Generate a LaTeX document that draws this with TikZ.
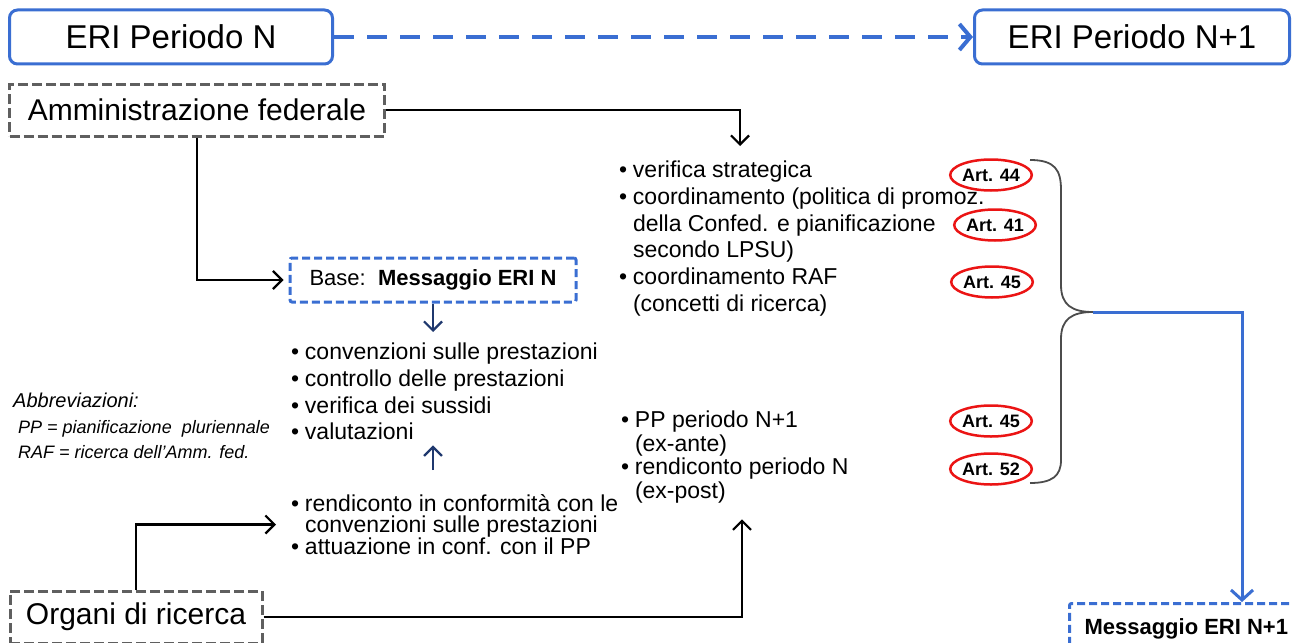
\documentclass[tikz,border=0pt]{standalone}
\usepackage{fontspec}
\setmainfont{Liberation Sans}
\usetikzlibrary{shapes.geometric, arrows.meta, positioning}

\definecolor{eriblue}{RGB}{58,110,210}
\definecolor{erinavy}{RGB}{31,56,110}
\definecolor{boxgray}{RGB}{95,95,95}
\definecolor{artred}{RGB}{235,20,20}

% punto elenco e rientro delle righe successive
\newcommand{\bul}{\makebox[0.6em][l]{•}}
\newcommand{\ind}{\hspace*{0.6em}}

\begin{document}
\begin{tikzpicture}[x=1pt, y=-1pt,
  periodbox/.style={draw=eriblue, line width=3pt, rounded corners=8pt,
    minimum height=54pt, inner sep=0pt, font=\fontsize{33}{38}\selectfont},
  actorbox/.style={draw=boxgray, line width=3pt, dash pattern=on 10pt off 4pt,
    minimum height=52pt, inner sep=0pt, font=\fontsize{30}{34}\selectfont},
  msgbox/.style={draw=eriblue, line width=3pt, dash pattern=on 8pt off 4pt,
    rounded corners=2pt, font=\fontsize{22}{26}\selectfont},
  itemlist/.style={anchor=north west, align=left, inner sep=0pt},
  art/.style={ellipse, draw=artred, line width=2.5pt, minimum width=78pt,
    minimum height=31pt, inner sep=0pt, font=\bfseries\fontsize{18}{20}\selectfont},
  flow/.style={line width=2.2pt, -{Straight Barb[length=9pt,width=18pt,line width=2.2pt]}},
  navyflow/.style={flow, draw=erinavy, -{Straight Barb[length=9pt,width=18pt,line width=2.2pt,color=erinavy]}},
  blueflow/.style={line width=3pt, draw=eriblue, -{Straight Barb[length=10pt,width=22pt,line width=3pt]}},
]
  \useasboundingbox (0,0) rectangle (1292,642);
  \clip (0,0) rectangle (1292,642);

  % ===== periodi ERI =====
  \node[periodbox, minimum width=323pt] (eriN) at (171,37) {ERI Periodo N};
  \node[periodbox, minimum width=315pt] (eriNext) at (1132,37) {ERI Periodo N+1};
  \draw[eriblue, line width=4.5pt, dash pattern=on 20pt off 13pt,
    -{Straight Barb[length=11pt,width=26pt,line width=4pt]}] (eriN) -- (eriNext);

  % ===== attori =====
  \node[actorbox, minimum width=375pt] (amm) at (197,110) {Amministrazione federale};
  \node[actorbox, minimum width=252pt] (organi) at (136,617) {Organi di ricerca};

  % ===== base e compiti =====
  \node[msgbox, minimum width=286pt, minimum height=44pt] (base) at (433,280)
    {Base:\ \ \textbf{Messaggio ERI N}};

  \node[itemlist, font=\fontsize{23}{26.7}\selectfont] (tasks) at (291,343)
    {\bul convenzioni sulle prestazioni\\
     \bul controllo delle prestazioni\\
     \bul verifica dei sussidi\\
     \bul valutazioni};

  \node[itemlist, font=\fontsize{23}{21}\selectfont] (report) at (291,494)
    {\bul rendiconto in conformità con le\\
     \ind convenzioni sulle prestazioni\\
     \bul attuazione in conf. con il PP};

  \node[itemlist, font=\fontsize{23}{26.7}\selectfont] (strat) at (619,161)
    {\bul verifica strategica\\
     \bul coordinamento (politica di promoz.\\
     \ind della Confed. e pianificazione\\
     \ind secondo LPSU)\\
     \bul coordinamento RAF\\
     \ind (concetti di ricerca)};

  \node[itemlist, font=\fontsize{23}{23.5}\selectfont] (pp) at (621,411)
    {\bul PP periodo N+1\\
     \ind (ex-ante)\\
     \bul rendiconto periodo N\\
     \ind (ex-post)};

  % abbreviazioni
  \node[itemlist, font=\itshape\fontsize{20}{24}\selectfont] (abbr) at (13,393) {Abbreviazioni:};
  \node[itemlist, font=\itshape\fontsize{18}{25.5}\selectfont] (abbrlist) at (18,420)
    {PP = pianificazione\ \ pluriennale\\
     RAF = ricerca dell’Amm. fed.};

  % ===== articoli di legge =====
  \node[art] (art44) at (991,175) {Art. 44};
  \node[art] (art41) at (995,225) {Art. 41};
  \node[art] (art45a) at (992,282) {Art. 45};
  \node[art] (art45b) at (991,421) {Art. 45};
  \node[art] (art52) at (991,469) {Art. 52};

  % graffa
  \coordinate (bracetip) at (1093,312);
  \draw[boxgray!80!black, line width=1.8pt]
    (1030,160) .. controls (1055,160) and (1061,170) .. (1061,190) -- (1061,285)
    .. controls (1061,305) and (1072,312) .. (bracetip)
    .. controls (1072,312) and (1061,319) .. (1061,339) -- (1061,460)
    .. controls (1061,476) and (1052,483) .. (1030,483);

  \node[msgbox, anchor=north west, minimum height=50pt, inner xsep=15pt] (msgnext) at (1068,602)
    {\textbf{Messaggio ERI N+1}};

  % ===== collegamenti =====
  \draw[flow, shorten >=15pt] (amm.east) -| ([xshift=121pt]strat.north west);
  \draw[flow, shorten >=5pt] (amm.south) |- (base.west);
  \draw[navyflow, shorten >=11pt] (base.south) -- (base.south |- tasks.north);
  \draw[navyflow, shorten <=24pt, shorten >=5pt] (report.north -| base.south) -- (tasks.south -| base.south);
  \draw[flow, shorten >=15pt] (organi.north) |- (report.west);
  \draw[flow, shorten >=16pt] (organi.east) -| ([xshift=121pt]pp.south west);
  \draw[blueflow] (bracetip) -| ([xshift=174pt]msgnext.north west);
\end{tikzpicture}
\end{document}
